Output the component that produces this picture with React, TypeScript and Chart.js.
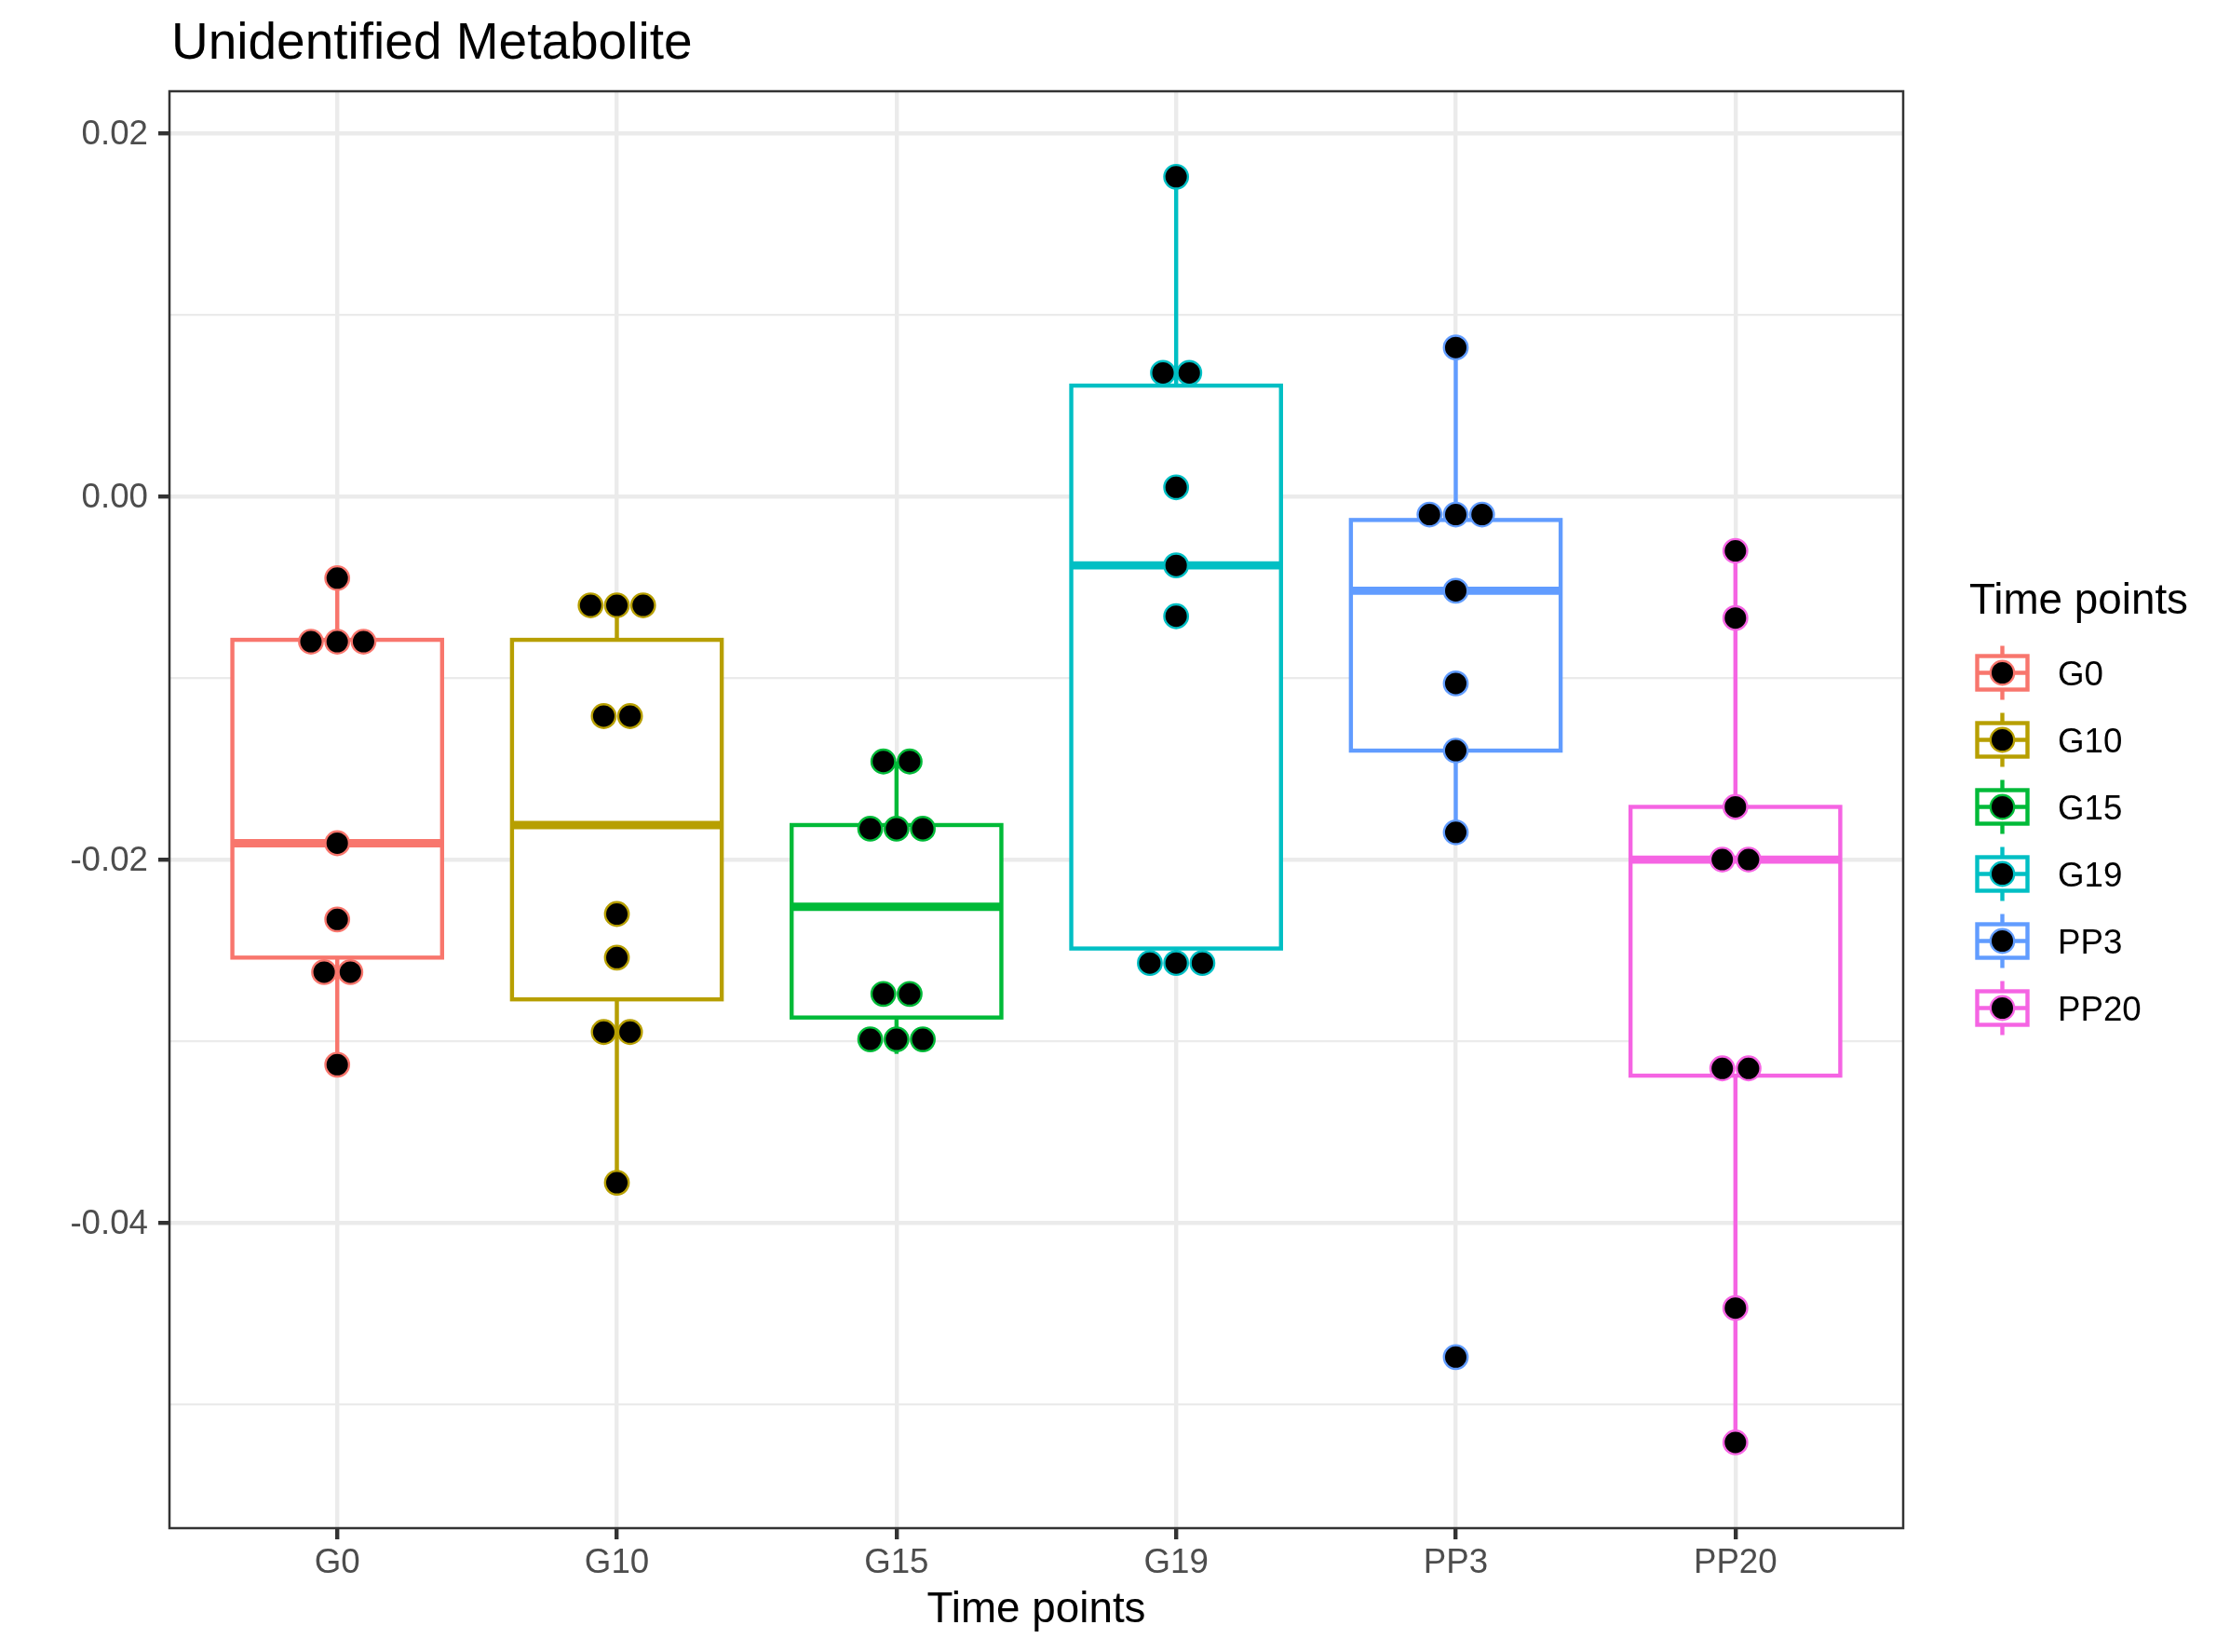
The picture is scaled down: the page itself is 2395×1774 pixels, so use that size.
import React, { useEffect, useRef } from 'react';
import { Chart, registerables } from 'chart.js';

Chart.register(...registerables);

// ---------------- data ----------------
const TITLE = 'Unidentified Metabolite';
const X_TITLE = 'Time points';
const LEGEND_TITLE = 'Time points';

const CATEGORIES = ['G0', 'G10', 'G15', 'G19', 'PP3', 'PP20'];
const COLORS = ['#F8766D', '#B79F00', '#00BA38', '#00BFC4', '#619CFF', '#F564E3'];

// box-plot statistics per category
const WHISKER_LOW = [-0.0313, -0.0378, -0.0307, -0.0257, -0.0185, -0.0521];
const Q1 = [-0.0254, -0.0277, -0.0287, -0.0249, -0.0140, -0.0319];
const MEDIAN = [-0.0191, -0.0181, -0.0226, -0.0038, -0.0052, -0.0200];
const Q3 = [-0.0079, -0.0079, -0.0181, 0.0061, -0.0013, -0.0171];
const WHISKER_HIGH = [-0.0045, -0.0060, -0.0146, 0.0176, 0.0082, -0.0030];

// dot-plot values (binned) per category
const DOTS_G0 = [-0.0045, -0.0080, -0.0080, -0.0080, -0.0191, -0.0233, -0.0262, -0.0262, -0.0313];
const DOTS_G10 = [-0.0060, -0.0060, -0.0060, -0.0121, -0.0121, -0.0230, -0.0254, -0.0295, -0.0295, -0.0378];
const DOTS_G15 = [-0.0146, -0.0146, -0.0183, -0.0183, -0.0183, -0.0274, -0.0274, -0.0299, -0.0299, -0.0299];
const DOTS_G19 = [0.0176, 0.0068, 0.0068, 0.0005, -0.0038, -0.0066, -0.0257, -0.0257, -0.0257];
const DOTS_PP3 = [0.0082, -0.0010, -0.0010, -0.0010, -0.0052, -0.0103, -0.0140, -0.0185, -0.0474];
const DOTS_PP20 = [-0.0030, -0.0067, -0.0171, -0.0200, -0.0200, -0.0315, -0.0315, -0.0447, -0.0521];
const DOTS = [DOTS_G0, DOTS_G10, DOTS_G15, DOTS_G19, DOTS_PP3, DOTS_PP20];

const Y_MAJOR = [-0.04, -0.02, 0, 0.02];
const Y_MINOR = [-0.05, -0.03, -0.01, 0.01];
const Y_MIN = -0.05682;
const Y_MAX = 0.02231;
const X_MIN = -0.6;
const X_MAX = CATEGORIES.length - 1 + 0.6;

// ---------------- style ----------------
const FONT = '"Liberation Sans", Arial, Helvetica, sans-serif';
const W = 2395;
const H = 1774;
const PANEL_BOTTOM = 1641;
const BOX_HALF = 0.375;
const DOT_STEP = 0.094;
const LINE = 4.4;
const GRID = '#EBEBEB';
const AXIS_DARK = '#333333';
const TICK_TEXT = '#4D4D4D';

const isMajor = (v: number) => Y_MAJOR.some((m) => Math.abs(m - v) < 1e-9);

function stackDots(values: number[], idx: number) {
  const groups = new Map<string, number[]>();
  values.forEach((v) => {
    const k = v.toFixed(5);
    if (!groups.has(k)) groups.set(k, []);
    groups.get(k)!.push(v);
  });
  const pts: { x: number; y: number }[] = [];
  groups.forEach((vals) => {
    const n = vals.length;
    vals.forEach((v, j) => pts.push({ x: idx + (j - (n - 1) / 2) * DOT_STEP, y: v }));
  });
  return pts;
}

function line(ctx: CanvasRenderingContext2D, x1: number, y1: number, x2: number, y2: number) {
  ctx.beginPath();
  ctx.moveTo(x1, y1);
  ctx.lineTo(x2, y2);
  ctx.stroke();
}

const boxPlugin = {
  id: 'boxes',
  beforeDatasetsDraw(chart: any) {
    const { ctx, chartArea } = chart;
    const x = chart.scales.x;
    const y = chart.scales.y;
    ctx.save();
    ctx.beginPath();
    ctx.rect(chartArea.left, chartArea.top, chartArea.right - chartArea.left, chartArea.bottom - chartArea.top);
    ctx.clip();
    ctx.lineCap = 'butt';
    ctx.lineJoin = 'miter';
    CATEGORIES.forEach((_, i) => {
      const cx = x.getPixelForValue(i);
      const xl = x.getPixelForValue(i - BOX_HALF);
      const xr = x.getPixelForValue(i + BOX_HALF);
      const ylo = y.getPixelForValue(WHISKER_LOW[i]);
      const yq1 = y.getPixelForValue(Q1[i]);
      const ymed = y.getPixelForValue(MEDIAN[i]);
      const yq3 = y.getPixelForValue(Q3[i]);
      const yhi = y.getPixelForValue(WHISKER_HIGH[i]);
      ctx.strokeStyle = COLORS[i];
      ctx.lineWidth = LINE;
      line(ctx, cx, yq3, cx, yhi);
      line(ctx, cx, yq1, cx, ylo);
      ctx.fillStyle = '#ffffff';
      ctx.fillRect(xl, yq3, xr - xl, yq1 - yq3);
      ctx.strokeRect(xl, yq3, xr - xl, yq1 - yq3);
      ctx.lineWidth = LINE * 2;
      line(ctx, xl, ymed, xr, ymed);
    });
    ctx.restore();
  },
  afterDraw(chart: any) {
    const { ctx, chartArea } = chart;
    ctx.save();
    // panel border
    ctx.strokeStyle = AXIS_DARK;
    ctx.lineWidth = 2.5;
    ctx.strokeRect(chartArea.left, chartArea.top, chartArea.right - chartArea.left, chartArea.bottom - chartArea.top);

    // title
    ctx.fillStyle = '#000000';
    ctx.textBaseline = 'alphabetic';
    ctx.textAlign = 'left';
    ctx.font = `55px ${FONT}`;
    ctx.fillText(TITLE, chartArea.left + 2, 63);

    // x axis title
    ctx.textAlign = 'center';
    ctx.font = `45.8px ${FONT}`;
    ctx.fillText(X_TITLE, (chartArea.left + chartArea.right) / 2, 1742);

    // legend
    ctx.textAlign = 'left';
    ctx.fillText(LEGEND_TITLE, 2115, 659);
    const kx = 2150.5;
    CATEGORIES.forEach((c, i) => {
      const cy = 722.5 + i * 72;
      ctx.strokeStyle = COLORS[i];
      ctx.lineWidth = LINE;
      line(ctx, kx, cy - 29, kx, cy - 18);
      line(ctx, kx, cy + 18, kx, cy + 29);
      ctx.fillStyle = '#ffffff';
      ctx.fillRect(kx - 27, cy - 18, 54, 36);
      ctx.strokeRect(kx - 27, cy - 18, 54, 36);
      line(ctx, kx - 27, cy, kx + 27, cy);
      ctx.beginPath();
      ctx.arc(kx, cy, 12.7, 0, Math.PI * 2);
      ctx.fillStyle = '#000000';
      ctx.fill();
      ctx.lineWidth = 2.4;
      ctx.stroke();
      ctx.fillStyle = '#000000';
      ctx.font = `36.7px ${FONT}`;
      ctx.fillText(c, 2210, cy + 13.1);
    });
    ctx.restore();
  },
};

export default function App() {
  const ref = useRef<HTMLCanvasElement | null>(null);

  useEffect(() => {
    document.body.style.margin = '0';
    document.body.style.background = '#ffffff';
    if (!ref.current) return;
    Chart.defaults.font.family = FONT;

    const datasets = CATEGORIES.map((c, i) => ({
      type: 'scatter' as const,
      label: c,
      data: stackDots(DOTS[i], i),
      pointRadius: 12.7,
      pointHoverRadius: 12.7,
      pointBorderWidth: 2.4,
      pointBackgroundColor: '#000000',
      pointBorderColor: COLORS[i],
      showLine: false,
    }));

    const chart = new Chart(ref.current, {
      type: 'scatter',
      data: { datasets },
      plugins: [boxPlugin],
      options: {
        animation: false,
        responsive: false,
        devicePixelRatio: 1,
        layout: { padding: { left: 0, top: 98, right: W - 2044, bottom: 0 } },
        plugins: {
          legend: { display: false },
          title: { display: false },
          tooltip: { enabled: false },
        },
        scales: {
          x: {
            type: 'linear',
            min: X_MIN,
            max: X_MAX,
            afterBuildTicks: (s: any) => {
              s.ticks = CATEGORIES.map((_, i) => ({ value: i }));
            },
            afterFit: (s: any) => {
              s.height = H - PANEL_BOTTOM;
            },
            grid: {
              color: GRID,
              lineWidth: LINE,
              tickColor: AXIS_DARK,
              tickLength: 12,
              tickWidth: LINE,
            },
            border: { display: false },
            ticks: {
              autoSkip: false,
              maxRotation: 0,
              padding: 4,
              color: TICK_TEXT,
              font: { size: 36.7, family: FONT },
              callback: (v: any) => CATEGORIES[Math.round(Number(v))] ?? '',
            },
          },
          y: {
            type: 'linear',
            min: Y_MIN,
            max: Y_MAX,
            afterBuildTicks: (s: any) => {
              s.ticks = [...Y_MINOR, ...Y_MAJOR].sort((a, b) => a - b).map((v) => ({ value: v }));
            },
            afterFit: (s: any) => {
              s.width = 182;
            },
            grid: {
              color: GRID,
              lineWidth: (ctx: any) => (isMajor(ctx.tick?.value) ? LINE : LINE / 2),
              tickColor: (ctx: any) => (isMajor(ctx.tick?.value) ? AXIS_DARK : 'rgba(0,0,0,0)'),
              tickLength: 12,
              tickWidth: LINE,
            },
            border: { display: false },
            ticks: {
              autoSkip: false,
              padding: 11,
              labelOffset: 2,
              color: TICK_TEXT,
              font: { size: 36.7, family: FONT },
              callback: (v: any) => (isMajor(Number(v)) ? Number(v).toFixed(2) : ''),
            },
          },
        },
      },
    });
    return () => chart.destroy();
  }, []);

  return <canvas ref={ref} width={W} height={H} style={{ display: 'block', width: W, height: H }} />;
}
